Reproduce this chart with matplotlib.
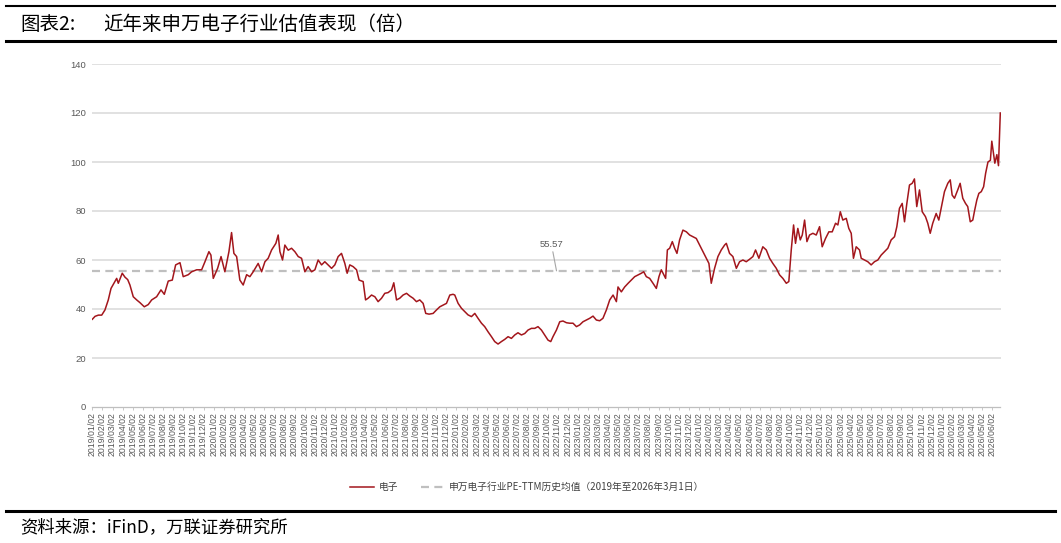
import matplotlib
matplotlib.use("Agg")
import matplotlib.pyplot as plt
from matplotlib.lines import Line2D

plt.rcParams['font.family'] = ['Noto Sans CJK SC', 'DejaVu Sans']

# ---------------- data ----------------
# x tick labels: monthly from 2019/01/02 to 2026/06/02
tick_labels = [f"{2019 + i // 12}/{i % 12 + 1:02d}/02" for i in range(90)]

# series: position in months since 2019/01/02, PE-TTM value
t_month = [
    0.00, 0.27, 0.60, 0.93, 1.25, 1.58, 1.85, 2.24, 2.41, 2.57, 2.96, 3.23, 3.50, 3.72, 4.05,
    4.39, 4.71, 5.14, 5.53, 5.87, 6.36, 6.79, 7.12, 7.51, 7.91, 8.24, 8.67, 8.99, 9.49, 9.82,
    10.32, 10.81, 11.14, 11.53, 11.73, 11.96, 12.39, 12.73, 13.11, 13.51, 13.77, 14.00, 14.27,
    14.59, 14.92, 15.26, 15.58, 15.91, 16.40, 16.74, 17.07, 17.39, 17.73,
    18.15, 18.38, 18.55, 18.81, 19.04, 19.37, 19.70, 20.03, 20.36, 20.69, 21.02, 21.34, 21.68,
    22.01, 22.33, 22.67, 22.99, 23.32, 23.66, 23.98, 24.31, 24.64, 24.97, 25.20, 25.46, 25.79,
    26.13, 26.38, 26.78, 27.02, 27.27, 27.61, 27.94, 28.26, 28.60, 28.92, 29.25, 29.59, 29.81,
    30.08, 30.40, 30.73, 31.07, 31.39, 31.72, 32.05, 32.38, 32.71, 32.97, 33.30, 33.70, 34.03,
    34.36, 34.68, 35.02, 35.35, 35.67,
    35.84, 36.17, 36.50, 36.83, 37.15, 37.49, 37.82, 38.14, 38.48, 38.80, 39.13, 39.47, 39.79,
    40.12, 40.45, 40.78, 41.11, 41.44, 41.77, 42.09, 42.43, 42.76, 43.08, 43.42, 43.75, 44.07,
    44.41, 44.73, 45.06, 45.33, 45.55, 45.89, 46.22, 46.54, 46.88, 47.20, 47.53, 47.87, 48.19,
    48.52, 48.85, 49.18, 49.51, 49.84, 50.17, 50.49, 50.83, 51.16, 51.49, 51.82, 51.98, 52.31,
    52.64, 52.98,
    53.30, 53.63, 53.95, 54.29, 54.52, 54.78, 55.11, 55.44, 55.77, 56.03, 56.26, 56.52, 56.69,
    56.86, 57.09, 57.35, 57.58, 57.81, 58.07, 58.40, 58.74, 59.06, 59.39, 59.72, 60.05, 60.38,
    60.71, 60.97, 61.20, 61.53, 61.86, 62.19, 62.52, 62.69, 63.01, 63.34, 63.68, 64.00, 64.33,
    64.66, 64.99, 65.32, 65.58, 65.91, 66.30, 66.64, 66.97, 67.29, 67.63, 67.96,
    68.28, 68.62, 68.87, 69.11, 69.34, 69.53, 69.76, 70.00, 70.20, 70.43, 70.66, 70.92, 71.25,
    71.58, 71.91, 72.17, 72.50, 72.83, 73.16, 73.49, 73.72, 73.96, 74.21, 74.55, 74.80, 75.04,
    75.26, 75.53, 75.86, 76.03, 76.35, 76.68, 77.01, 77.34, 77.67, 78.00, 78.33, 78.66, 78.99,
    79.32, 79.55, 79.81, 80.08, 80.31, 80.54, 80.80, 81.07, 81.29, 81.52, 81.79, 82.06, 82.38,
    82.61, 82.85, 83.10, 83.44, 83.70, 84.03, 84.26, 84.59, 84.83, 85.02, 85.25, 85.57, 85.81,
    86.07, 86.34, 86.56, 86.81, 87.06, 87.23, 87.46, 87.66, 87.90, 88.13, 88.33, 88.56, 88.80,
    88.94, 89.24, 89.44, 89.60, 89.78,
]
pe_ttm = [
    35.8, 37.0, 37.5, 37.5, 39.6, 43.7, 48.4, 51.2, 52.5, 50.5, 54.6, 53.0, 52.0, 49.8, 45.0,
    43.7, 42.6, 40.9, 41.8, 43.7, 45.0, 47.8, 46.0, 51.4, 51.8, 58.0, 58.9, 53.2, 54.0, 55.2,
    56.0, 56.0, 59.3, 63.4, 62.0, 52.5, 56.6, 61.4, 55.2, 63.4, 71.2, 62.7, 61.4,
    51.8, 49.8, 54.0, 53.2, 55.2, 58.6, 55.2, 59.3, 60.7, 64.1,
    66.8, 70.2, 63.4, 60.0, 66.1, 64.0, 64.8, 63.4, 61.4, 60.7, 55.2, 57.3, 55.2,
    56.0, 60.0, 58.0, 59.3, 58.0, 56.6, 58.0, 61.4, 62.7, 58.6, 54.6, 58.0, 57.3,
    56.0, 51.8, 51.2, 43.7, 44.4, 45.7, 45.0, 43.0, 44.4, 46.4, 46.7, 47.8, 50.7,
    43.7, 44.4, 45.7, 46.4, 45.3, 44.4, 43.0, 43.7, 42.3, 38.2, 37.9, 38.2, 39.6,
    40.9, 41.6, 42.3, 45.7, 46.0,
    45.7, 42.3, 40.3, 38.9, 37.6, 36.9, 38.2, 36.2, 34.2, 32.8, 30.7, 28.7, 26.7,
    25.7, 26.7, 27.6, 28.7, 28.0, 29.4, 30.3, 29.4, 30.0, 31.4, 32.1, 32.1, 32.8,
    31.4, 29.4, 27.3, 26.7, 28.7, 31.4, 34.8, 35.1, 34.4, 34.2, 34.2, 32.8, 33.5,
    34.8, 35.5, 36.2, 37.1, 35.5, 35.2, 36.2, 39.6, 43.7, 45.7, 43.0, 49.0, 47.0,
    49.0, 50.5,
    51.8, 53.2, 53.9, 54.6, 55.2, 53.2, 52.5, 50.5, 48.4, 53.2, 56.0, 53.9, 52.5,
    64.1, 64.8, 67.5, 64.8, 62.7, 68.2, 72.2, 71.5, 70.2, 69.5, 68.8, 66.1, 63.4,
    60.7, 58.6, 50.5, 56.6, 61.4, 64.1, 66.1, 66.8, 62.7, 61.4, 56.6, 59.3, 60.0,
    59.3, 60.3, 61.4, 64.1, 60.7, 65.4, 64.1, 60.7, 58.6, 56.6, 53.9,
    52.5, 50.5, 51.2, 64.1, 74.3, 66.8, 72.9, 68.2, 70.2, 76.3, 67.5, 70.2, 70.9,
    70.2, 73.6, 65.4, 68.8, 71.5, 71.5, 75.0, 74.3, 79.7, 76.3, 77.0, 72.9, 70.9,
    60.7, 65.4, 64.1, 60.7, 60.0, 59.3, 58.0, 59.3, 60.0, 62.0, 63.4, 64.8, 68.2,
    69.5, 73.6, 81.1, 83.1, 75.6, 83.1, 90.6, 91.3, 93.1, 81.8, 88.6, 79.7, 77.7,
    75.0, 70.9, 75.0, 79.0, 76.3, 83.1, 87.9, 91.3, 92.7, 86.5, 85.2, 88.6, 91.3,
    85.2, 83.1, 81.8, 75.6, 76.3, 80.0, 84.5, 87.2, 87.9, 89.9, 95.4, 100.0, 100.7,
    108.5, 99.5, 103.0, 98.5, 120.0,
]
mean_value = 55.57
series_label = "电子"
mean_label = "申万电子行业PE-TTM历史均值（2019年至2026年3月1日）"
y_ticks = [0, 20, 40, 60, 80, 100, 120, 140]

# ---------------- figure ----------------
W, H = 1061, 543
fig = plt.figure(figsize=(W / 100, H / 100), dpi=100)
ax = fig.add_axes([92.3 / W, 1 - 407 / H, (1000.5 - 92.3) / W, (407 - 64) / H])

red = '#A3161C'
gray_txt = '#595959'

mean_line = ax.axhline(mean_value, color='#BFBFBF', lw=1.6, dashes=(3.6, 2.4), zorder=2)
line, = ax.plot(t_month, pe_ttm, color=red, lw=1.1, zorder=3)

ax.set_xlim(0, 89.8)
ax.set_ylim(0, 140)
ax.set_yticks(y_ticks)
ax.set_yticklabels([str(v) for v in y_ticks], fontsize=6.8, color=gray_txt,
                   family=['Liberation Sans', 'DejaVu Sans'])
ax.tick_params(axis='y', length=0, pad=4.5)
ax.set_xticks(range(len(tick_labels)))
ax.set_xticklabels(tick_labels, rotation=90, fontsize=6.3, color=gray_txt,
                   family=['Liberation Sans', 'DejaVu Sans'])
ax.tick_params(axis='x', length=2.5, width=0.6, color='#BFBFBF', pad=1.2)

for s in ['top', 'right', 'left']:
    ax.spines[s].set_visible(False)
ax.spines['bottom'].set_color('#BFBFBF')
ax.spines['bottom'].set_linewidth(0.9)
for v in y_ticks[1:]:
    ax.axhline(v, color='#D9D9D9', lw=1.1, zorder=1)

ax.annotate(f"{mean_value:.2f}", xy=(45.9, mean_value), xytext=(45.4, 64.5),
            fontsize=6.8, color=gray_txt, ha='center', va='bottom',
            family=['Liberation Sans', 'DejaVu Sans'],
            arrowprops=dict(arrowstyle='-', color='#A6A6A6', lw=0.8,
                            shrinkA=0, shrinkB=0))

leg = fig.legend([line, mean_line], [series_label, mean_label], loc='center',
                 bbox_to_anchor=(0.497, 1 - 487 / H), ncol=2, frameon=False,
                 fontsize=7, handlelength=2.5, handletextpad=0.4, columnspacing=2.4)
for t in leg.get_texts():
    t.set_color('#404040')

# header / footer
fig.add_artist(Line2D([6 / W, 1055 / W], [1 - 6 / H, 1 - 6 / H], color='black', lw=1.5,
                      transform=fig.transFigure))
fig.add_artist(Line2D([6 / W, 1055 / W], [1 - 41 / H, 1 - 41 / H], color='black', lw=2.2,
                      transform=fig.transFigure))
fig.add_artist(Line2D([6 / W, 1055 / W], [1 - 510.5 / H, 1 - 510.5 / H], color='black', lw=2.2,
                      transform=fig.transFigure))
fig.text(20 / W, 1 - 24 / H, "图表2:", fontsize=14, va='center', ha='left', color='black',
         fontweight='light')
fig.text(103 / W, 1 - 24 / H, "近年来申万电子行业估值表现（倍）", fontsize=14, va='center',
         ha='left', color='black', fontweight='light')
fig.text(20 / W, 1 - 527 / H, "资料来源：iFinD，万联证券研究所", fontsize=12.5, va='center',
         ha='left', color='black', fontweight='light')

fig.savefig('out.png', dpi=100)
